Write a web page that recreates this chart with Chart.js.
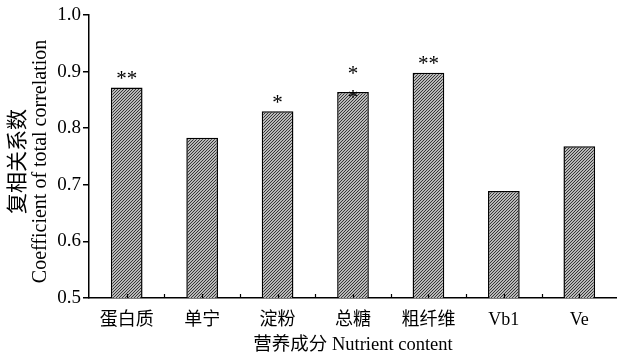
<!DOCTYPE html>
<html>
<head>
<meta charset="utf-8">
<script src="https://cdn.jsdelivr.net/npm/chart.js@4"></script>
<style>
  body { margin: 0; background: #fff; }
  #wrap { width: 617px; height: 356px; }
</style>
</head>
<body>
<div id="wrap"><canvas id="myChart" width="617" height="356"></canvas></div>
<script>
// Nutrient categories and their total correlation coefficients
const categories = ['蛋白质', '单宁', '淀粉', '总糖', '粗纤维', 'Vb1', 'Ve'];
const coefValues = [0.872, 0.783, 0.830, 0.864, 0.898, 0.689, 0.768];
const significance = ['**', '', '*', '*\n*', '**', '', ''];
const yTicks = [0.5, 0.6, 0.7, 0.8, 0.9, 1.0];
const yTitleLines = ['复相关系数', 'Coefficient of total correlation'];

const FONT = "'Liberation Serif', 'Noto Sans CJK SC', serif";

// fine hatched fill for the bars, set pixel by pixel so it stays crisp
function makeHatch() {
  let c = document.createElement('canvas');
  c.width = 3; c.height = 3;
  let g = c.getContext('2d');
  let img = g.createImageData(3, 3);
  for (let y = 0; y < 3; y++) {
    for (let x = 0; x < 3; x++) {
      let k = (y * 3 + x) * 4;
      let v = ((x + y) % 3 === 2) ? 55 : 185;
      img.data[k] = v; img.data[k + 1] = v; img.data[k + 2] = v; img.data[k + 3] = 255;
    }
  }
  g.putImageData(img, 0, 0);
  return g.createPattern(c, 'repeat');
}

// stars above bars, inward ticks on the x axis, two-font y title
const extras = {
  id: 'extras',
  afterDatasetsDraw(chart) {
    const ctx = chart.ctx;
    const xs = chart.scales.x, ys = chart.scales.y;
    const area = chart.chartArea;
    ctx.save();
    ctx.strokeStyle = '#000';
    ctx.lineWidth = 1.2;
    const bottom = area.bottom;
    ctx.beginPath();
    for (let i = 0; i < categories.length; i++) {
      let cx = Math.round(xs.getPixelForValue(i)) + 0.5;
      ctx.moveTo(cx, bottom); ctx.lineTo(cx, bottom - 4);
      if (i < categories.length - 1) {
        let bx = Math.round((xs.getPixelForValue(i) + xs.getPixelForValue(i + 1)) / 2) + 0.5;
        ctx.moveTo(bx, bottom); ctx.lineTo(bx, bottom - 4);
      }
    }
    ctx.stroke();

    ctx.fillStyle = '#000';
    ctx.font = "21px " + FONT;
    ctx.textAlign = 'center';
    ctx.textBaseline = 'middle';
    significance.forEach((s, i) => {
      if (!s) return;
      let top = ys.getPixelForValue(coefValues[i]);
      let lines = s.split('\n');
      let x = xs.getPixelForValue(i);
      if (lines.length === 1) {
        ctx.fillText(lines[0], x, top - 8);
      } else {
        ctx.fillText(lines[0], x, top - 17);
        ctx.fillText(lines[1], x, top + 7);
      }
    });

    // y axis title, rotated
    const cy = (area.top + area.bottom) / 2 + 5;
    ctx.translate(0, cy);
    ctx.rotate(-Math.PI / 2);
    ctx.font = "21px " + FONT;
    ctx.fillText(yTitleLines[0], 0, 18);
    ctx.font = "20px " + FONT;
    ctx.fillText(yTitleLines[1], 0, 41);
    ctx.restore();
  }
};

document.addEventListener('DOMContentLoaded', () => {
  const ctx = document.getElementById('myChart').getContext('2d');
  const hatch = makeHatch();
  new Chart(ctx, {
    type: 'bar',
    data: {
      labels: categories,
      datasets: [{
        data: coefValues,
        backgroundColor: hatch,
        borderColor: '#000',
        borderWidth: 1.5,
        borderSkipped: false,
        categoryPercentage: 1,
        barPercentage: 0.42
      }]
    },
    options: {
      responsive: false,
      animation: false,
      layout: { padding: { top: 15, right: 0, left: 0, bottom: 0 } },
      plugins: { legend: { display: false }, tooltip: { enabled: false } },
      scales: {
        x: {
          grid: { display: false },
          border: { color: '#000', width: 1.5 },
          ticks: { color: '#000', font: { family: FONT, size: 18 }, padding: 3, maxRotation: 0 },
          title: { display: true, text: '营养成分 Nutrient content', color: '#000',
                   font: { family: FONT, size: 18.5 }, padding: { top: 0, bottom: 0 } },
          afterFit: (scale) => { scale.height = 58; }
        },
        y: {
          min: 0.5, max: 1.0,
          afterBuildTicks: (scale) => { scale.ticks = yTicks.map(v => ({ value: v })); },
          grid: { drawOnChartArea: false, drawTicks: true, tickLength: 6, color: '#000', lineWidth: 1.5 },
          border: { color: '#000', width: 1.5 },
          ticks: { color: '#000', font: { family: FONT, size: 19 }, padding: 2,
                   callback: (v) => Number(v).toFixed(1) },
          afterFit: (scale) => { scale.width = 89; }
        }
      }
    },
    plugins: [extras]
  });
});
</script>
</body>
</html>
